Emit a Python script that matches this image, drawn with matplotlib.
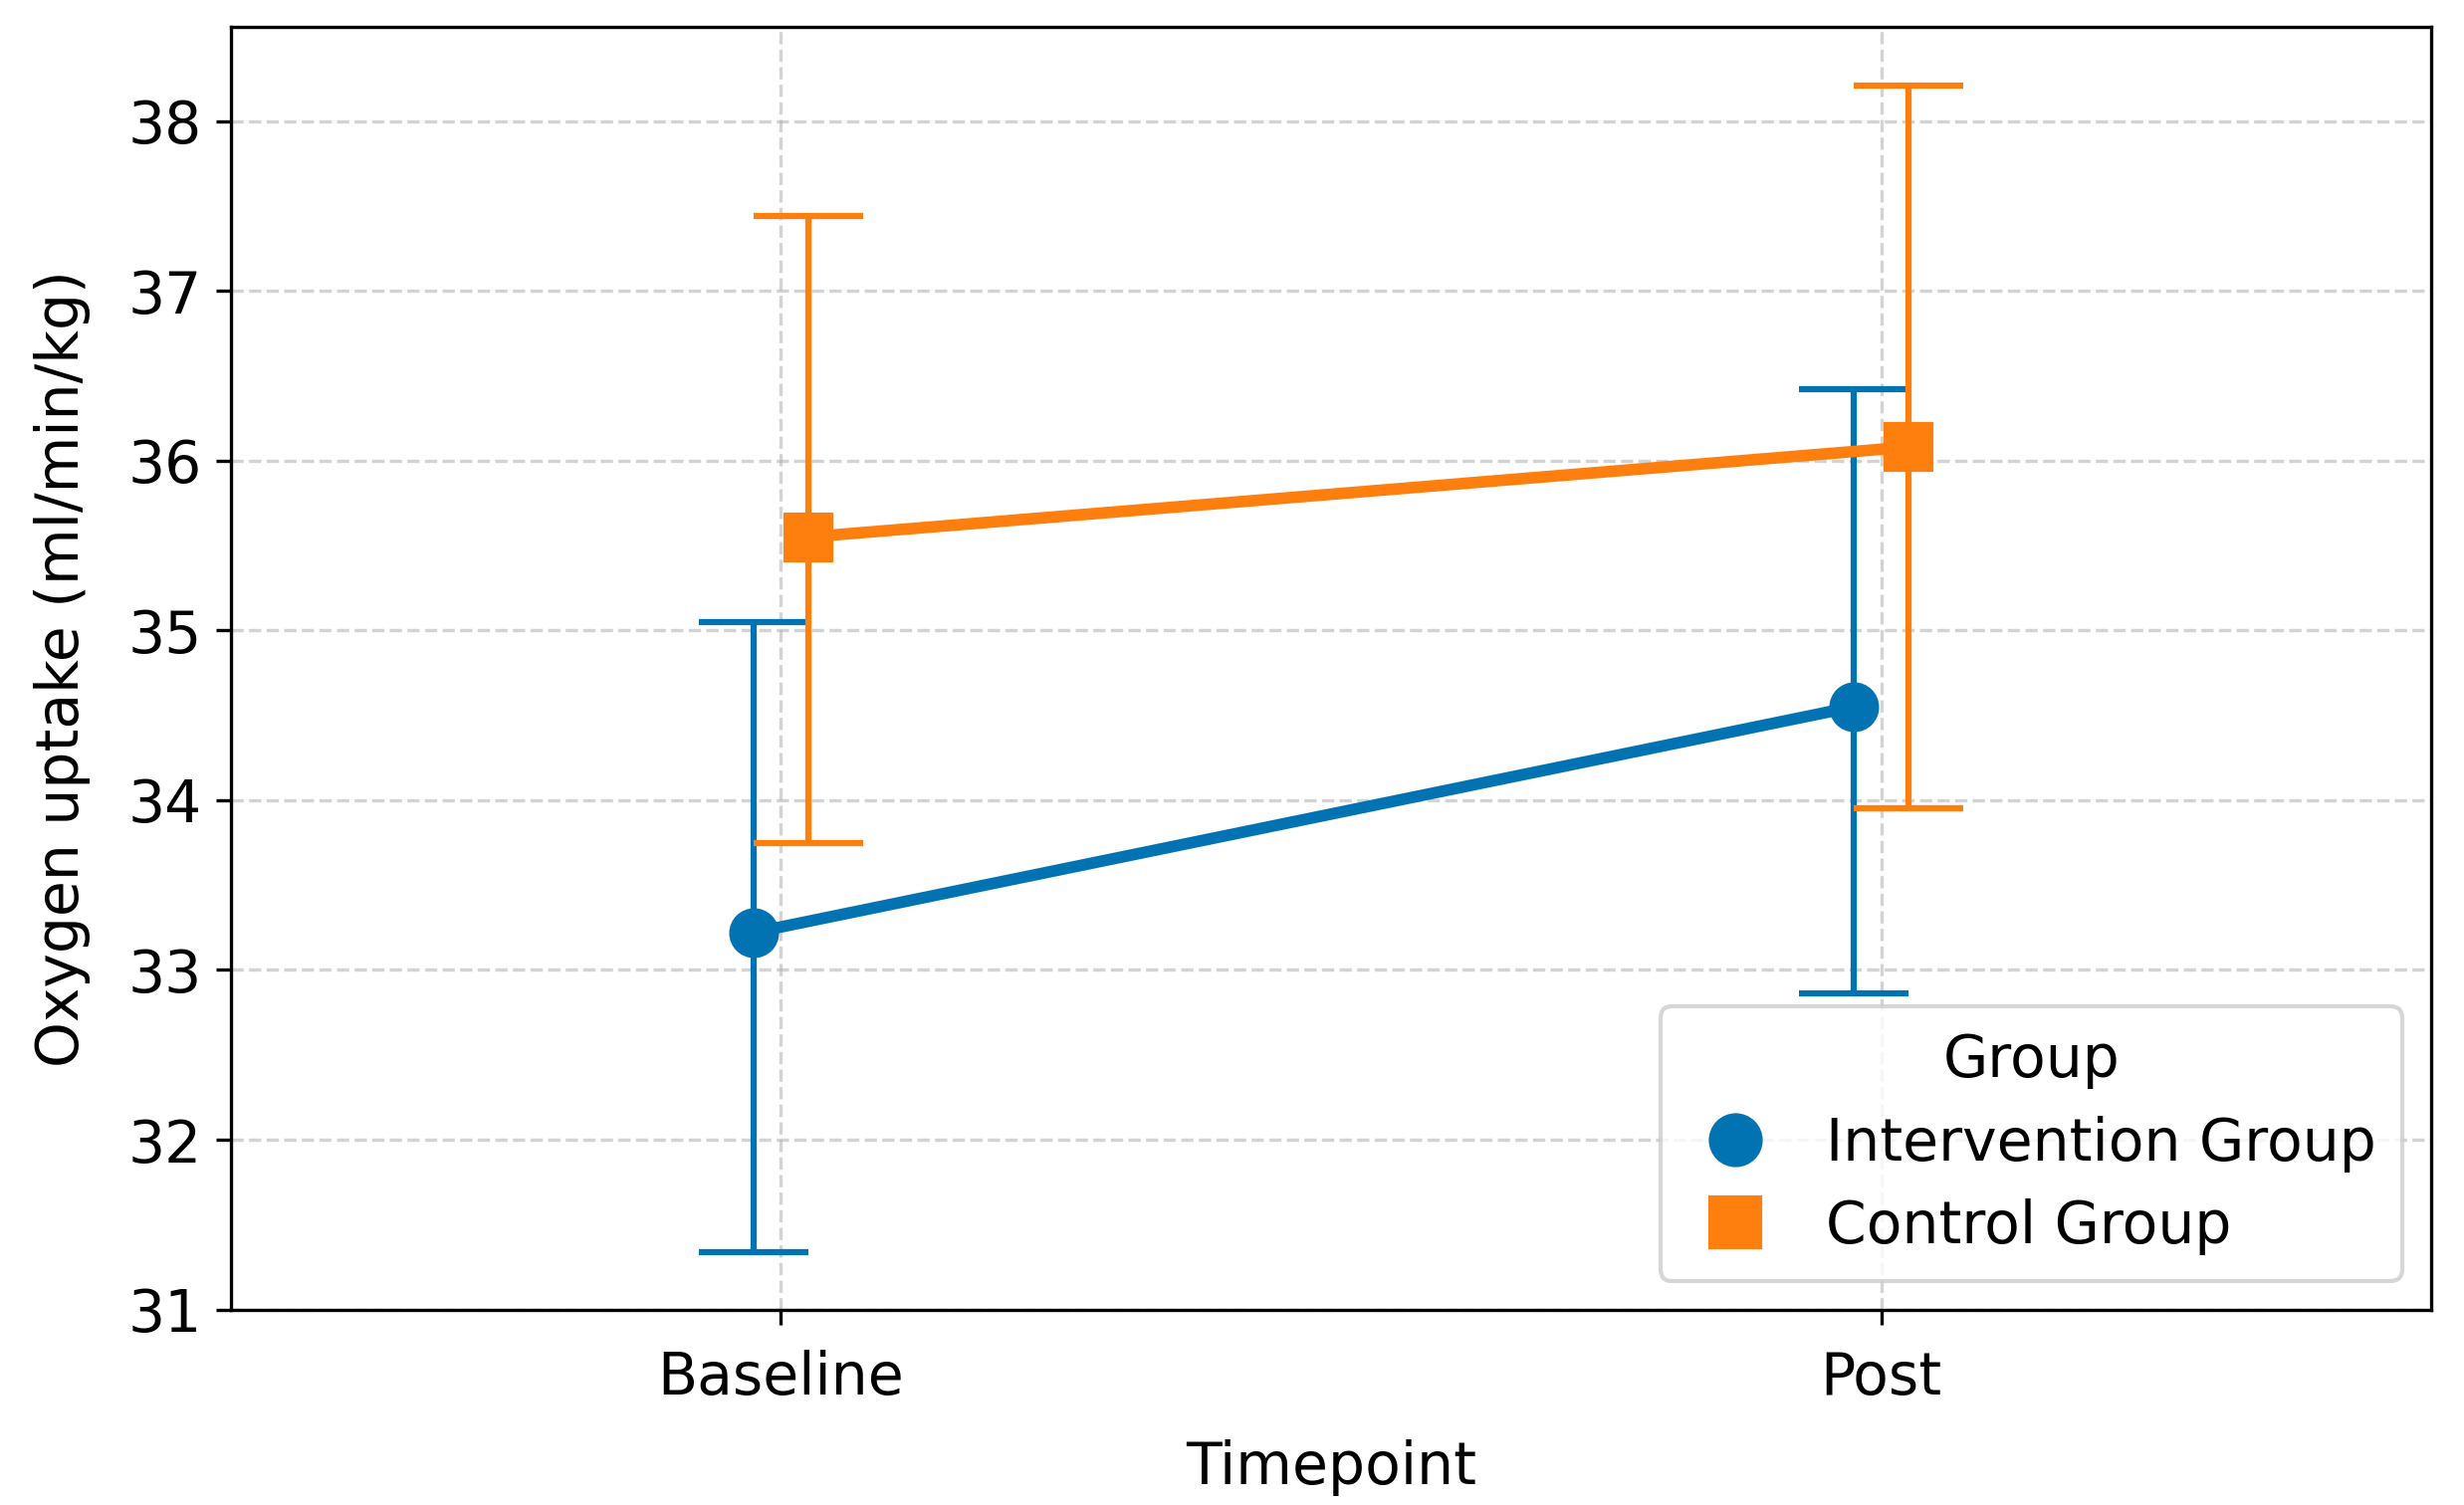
import numpy as np
import matplotlib
matplotlib.use("Agg")
import matplotlib.pyplot as plt
from matplotlib.lines import Line2D

timepoints = ["Baseline", "Post"]
groups = ["Intervention Group", "Control Group"]
means_intervention = [33.22, 34.55]
low_intervention = [31.34, 32.86]
high_intervention = [35.05, 36.42]
means_control = [35.55, 36.08]
low_control = [33.75, 33.95]
high_control = [37.44, 38.21]

colors = ["#0173b2", "#ff7f0e"]
markers = ["o", "s"]

fig = plt.figure(figsize=(8.25, 5.04), dpi=300)
ax = fig.add_axes([0.0937, 0.1295, 0.893, 0.8525])

x = np.arange(len(timepoints))
dodge = [-0.025, 0.025]
cap = 0.05

series = [(means_intervention, low_intervention, high_intervention),
          (means_control, low_control, high_control)]
handles = []
for i, (m, lo, hi) in enumerate(series):
    xs = x + dodge[i]
    ax.vlines(xs, lo, hi, color=colors[i], lw=1.5, zorder=2)
    ax.hlines(hi, xs - cap, xs + cap, color=colors[i], lw=1.5, zorder=2)
    ax.hlines(lo, xs - cap, xs + cap, color=colors[i], lw=1.5, zorder=2)
    ax.plot(xs, m, color=colors[i], lw=2.8, marker=markers[i], markersize=11, zorder=3)
    handles.append(Line2D([], [], ls="", marker=markers[i], color=colors[i],
                          markersize=12, label=groups[i]))

ax.set_xlim(-0.5, 1.5)
ax.set_xticks(x)
ax.set_xticklabels(timepoints)
ax.set_yticks(range(31, 39))
ax.grid(True, ls="--", color="#b0b0b0", alpha=0.55, lw=0.8)
ax.set_axisbelow(True)
ax.tick_params(labelsize=14)
ax.tick_params(axis="x", pad=6)
ax.set_xlabel("Timepoint", fontsize=14, labelpad=8)
ax.set_ylabel("Oxygen uptake (ml/min/kg)", fontsize=14, labelpad=9)

ax.legend(handles=handles, title="Group", loc="lower right", fontsize=14,
          title_fontsize=14, handletextpad=0.7, handlelength=1.7,
          borderpad=0.45, labelspacing=0.45)

fig.savefig("out.png", dpi=300)
